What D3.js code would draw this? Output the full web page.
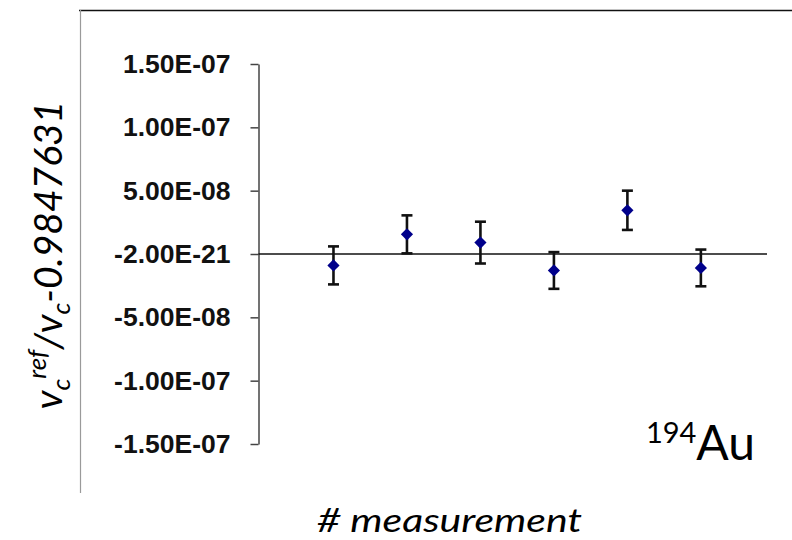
<!DOCTYPE html>
<html>
<head>
<meta charset="utf-8">
<script src="https://cdn.jsdelivr.net/npm/d3@7"></script>
<style>
  html, body { margin: 0; padding: 0; background: #fff; }
  svg { display: block; }
</style>
</head>
<body>
<script>
// Measurement index and frequency-ratio deviation with its uncertainty
const measurements = [1, 2, 3, 4, 5, 6];
const deviations   = [-9.0e-9, 1.55e-8, 9.0e-9, -1.3e-8, 3.45e-8, -1.1e-8];
const uncertainties = [1.5e-8, 1.5e-8, 1.65e-8, 1.45e-8, 1.55e-8, 1.45e-8];

// Y axis ticks as printed by the spreadsheet (zero shows as round-off)
const yTickValues = [1.5e-7, 1.0e-7, 5.0e-8, -2.0e-21, -5.0e-8, -1.0e-7, -1.5e-7];
const yTickLabels = ["1.50E-07", "1.00E-07", "5.00E-08", "-2.00E-21", "-5.00E-08", "-1.00E-07", "-1.50E-07"];

const W = 792, H = 540;
const svg = d3.select("body").append("svg").attr("width", W).attr("height", H);

const x = d3.scaleLinear().domain([0, 6.9]).range([260, 767]);
const y = d3.scaleLinear().domain([-1.5e-7, 1.5e-7]).range([444, 64]);

// Outer chart frame (top and left edges)
svg.append("line").attr("x1", 79).attr("x2", W).attr("y1", 10.5).attr("y2", 10.5)
  .attr("stroke", "#111").attr("stroke-width", 1.6);
svg.append("line").attr("x1", 80.5).attr("x2", 80.5).attr("y1", 10).attr("y2", 493)
  .attr("stroke", "#9a9a9a").attr("stroke-width", 1.2);

// Y axis
const yAxis = d3.axisLeft(y)
  .tickValues(yTickValues)
  .tickFormat((d, i) => yTickLabels[i])
  .tickSizeInner(8).tickSizeOuter(0).tickPadding(20);
const gy = svg.append("g").attr("transform", `translate(${x(0) - 1.5},0)`).call(yAxis);
gy.select(".domain").attr("stroke", "#444").attr("stroke-width", 1.5);
gy.selectAll(".tick line").attr("stroke", "#444").attr("stroke-width", 1.5);
gy.selectAll(".tick text")
  .attr("font-family", "'Liberation Sans', Arial, sans-serif")
  .attr("font-weight", "bold").attr("font-size", 26.5).attr("fill", "#111");

// Horizontal axis through zero
svg.append("line").attr("x1", x(0) - 1.5).attr("x2", x(6.9)).attr("y1", y(0)).attr("y2", y(0))
  .attr("stroke", "#111").attr("stroke-width", 1.6);

// Error bars
const eb = svg.append("g").attr("stroke", "#111").attr("stroke-width", 2.6);
measurements.forEach((m, i) => {
  const cx = x(m), top = y(deviations[i] + uncertainties[i]), bot = y(deviations[i] - uncertainties[i]);
  eb.append("line").attr("x1", cx).attr("x2", cx).attr("y1", top).attr("y2", bot);
  eb.append("line").attr("x1", cx - 5.5).attr("x2", cx + 5.5).attr("y1", top).attr("y2", top);
  eb.append("line").attr("x1", cx - 5.5).attr("x2", cx + 5.5).attr("y1", bot).attr("y2", bot);
});

// Diamond markers
svg.append("g").selectAll("path").data(measurements).join("path")
  .attr("d", d3.symbol().type(d3.symbolDiamond2).size(95))
  .attr("transform", (m, i) => `translate(${x(m)},${y(deviations[i])})`)
  .attr("fill", "#00008b");

// Axis titles
const titleFont = "Lato, 'Open Sans', sans-serif";
svg.append("text").attr("x", 449.5).attr("y", 532)
  .attr("text-anchor", "middle").attr("font-family", titleFont)
  .attr("font-style", "italic").attr("font-size", 33).attr("fill", "#000")
  .attr("textLength", 265).attr("lengthAdjust", "spacingAndGlyphs")
  .text("# measurement");

const yt = svg.append("text")
  .attr("transform", "translate(62,255) rotate(-90)")
  .attr("text-anchor", "middle").attr("font-family", titleFont)
  .attr("font-style", "italic").attr("font-size", 39).attr("fill", "#000");
yt.append("tspan").text("v");
yt.append("tspan").attr("font-size", 26).attr("dy", 8).text("c");
yt.append("tspan").attr("font-size", 26).attr("dy", -24).text("ref");
yt.append("tspan").attr("dy", 16).text("/v");
yt.append("tspan").attr("font-size", 26).attr("dy", 8).text("c");
yt.append("tspan").attr("dy", -8).text("-0.9847631");

// Isotope label
const iso = svg.append("text").attr("x", 755).attr("y", 460)
  .attr("text-anchor", "end").attr("font-family", titleFont).attr("fill", "#000");
iso.append("tspan").attr("font-size", 29).attr("dy", -17).text("194");
iso.append("tspan").attr("font-size", 48).attr("dy", 17).text("Au");
</script>
</body>
</html>
